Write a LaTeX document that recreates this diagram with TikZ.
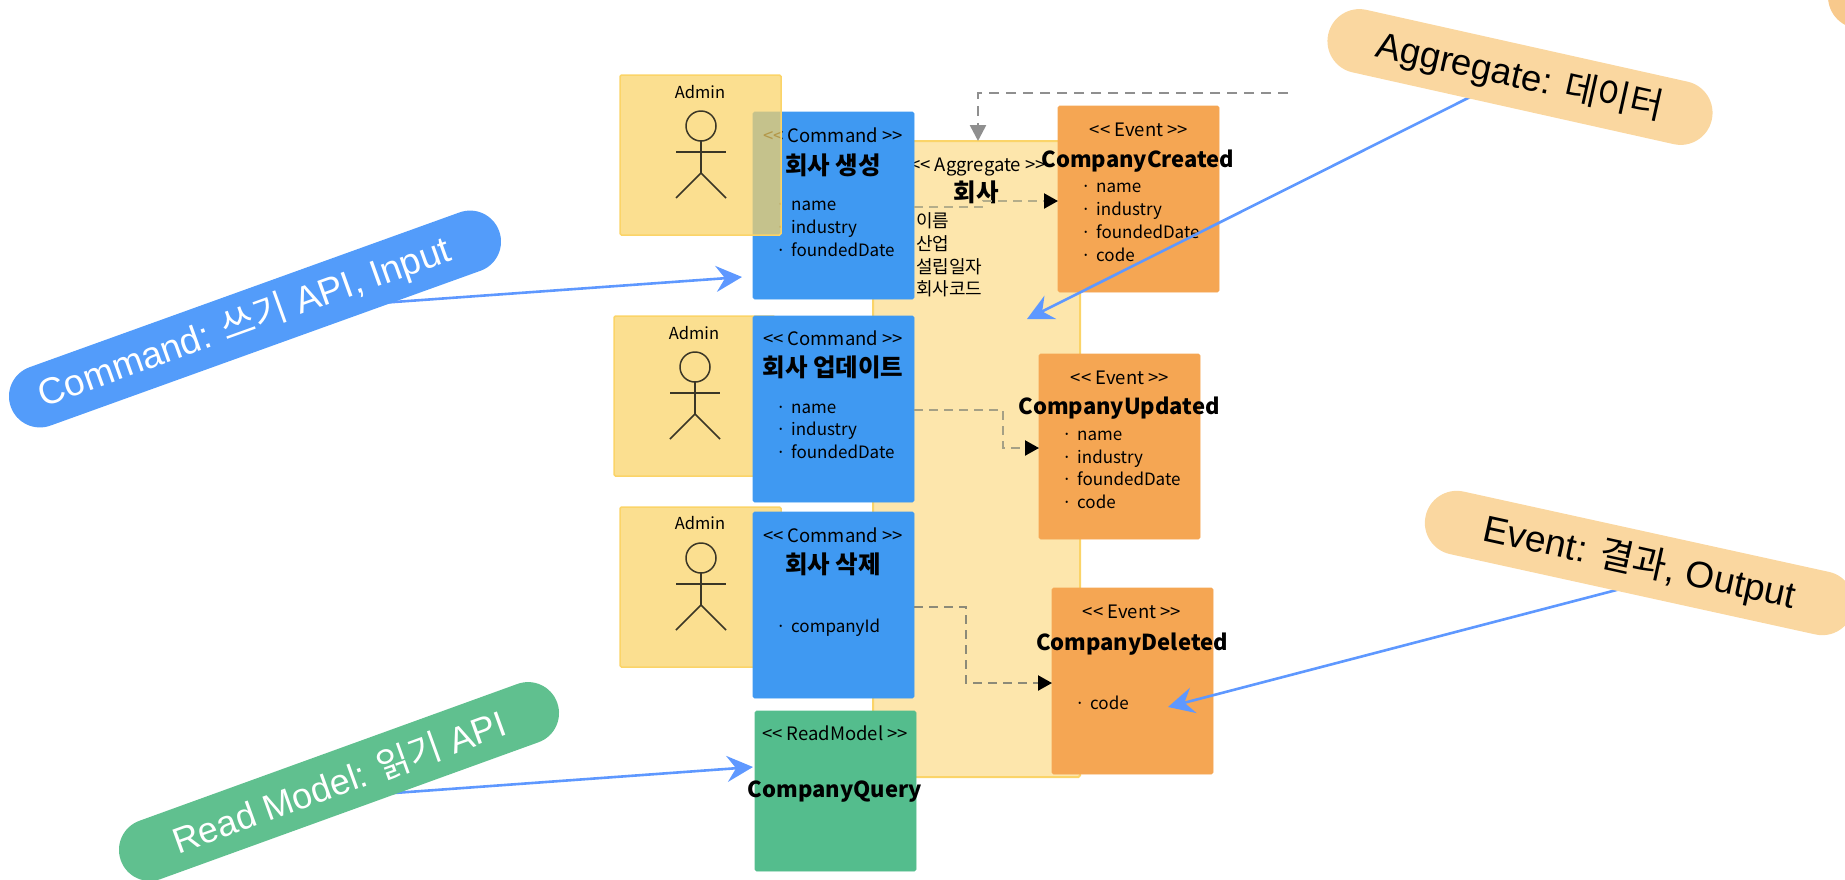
\documentclass[tikz,border=0pt]{standalone}
\usepackage{fontspec}
\setmainfont{Noto Sans CJK KR}
\newfontfamily\pilllatin{Liberation Sans}
\usetikzlibrary{arrows.meta}
\pgfdeclarelayer{front}
\pgfsetlayers{main,front}
\definecolor{cmdblue}{HTML}{3F99F2}
\definecolor{adminfill}{HTML}{F9D265}
\definecolor{adminedge}{HTML}{FBD468}
\definecolor{aggfill}{HTML}{FDE6AC}
\definecolor{evorange}{HTML}{F5A653}
\definecolor{rmgreen}{HTML}{54BD8D}
\definecolor{pillblue}{HTML}{539CFA}
\definecolor{pillorange}{HTML}{FAD7A0}
\definecolor{cornerorange}{HTML}{F8C98C}
\definecolor{pillgreen}{HTML}{60C08F}
\definecolor{arrowblue}{HTML}{5E98FF}
\definecolor{flowa}{HTML}{B4AD8A}
\definecolor{flowb}{HTML}{A5A085}
\definecolor{flowc}{HTML}{8C8A78}
\definecolor{flowtop}{HTML}{8F8F8F}
\definecolor{stickc}{HTML}{3A3626}
\newcommand\bul{\makebox[15pt][l]{·}}
\newcommand\oo{<\kern0pt<}
\newcommand\cc{>\kern0pt>}
\newcommand\ko[1]{{\rmfamily #1}}
\tikzset{
  x=1pt,y=-1pt,
  box/.style={rectangle,anchor=north west,inner sep=0pt,outer sep=0pt,minimum width=161pt,rounded corners=1.5pt},
  cmdbox/.style={box,fill=cmdblue,draw=cmdblue,line width=.6pt,minimum height=187pt},
  evbox/.style={box,fill=evorange,draw=evorange,line width=.6pt,minimum height=186pt},
  adminbox/.style={box,fill=adminfill,fill opacity=.72,draw=adminedge,line width=1.5pt,minimum height=160pt},
  stereo/.style={anchor=base,yshift=-6pt,inner sep=0pt,font=\fontsize{18.5}{20}\selectfont},
  actorname/.style={stereo,font=\fontsize{16.5}{18}\selectfont},
  titletext/.style={anchor=base,yshift=-8pt,inner sep=0pt,font=\bfseries\fontsize{24.5}{26}\selectfont},
  latintitle/.style={anchor=base,yshift=-8pt,inner sep=0pt,font=\bfseries\fontsize{22}{24}\selectfont},
  attr/.style={anchor=base west,yshift=-6pt,inner sep=0pt,font=\fontsize{17}{18}\selectfont},
  aggattr/.style={attr,font=\fontsize{18}{18}\selectfont},
  flow/.style={line width=2.2pt,dash pattern=on 9pt off 6pt,-{Triangle[length=14pt,width=15pt,color=black]}},
  pointer/.style={draw=arrowblue,line width=2.6pt,-{Stealth[length=26pt,width=26pt,inset=9pt]}},
  pill/.style={rectangle,inner sep=0pt,outer sep=0pt},
  stick/.style={draw=stickc,line width=1.5pt},
}
\newcommand\stickman[2]{%
  \draw[stick] (#1,#2+51) circle (15);
  \draw[stick] (#1,#2+66) -- (#1,#2+98);
  \draw[stick] (#1-25,#2+77) -- (#1+25,#2+77);
  \draw[stick] (#1-25,#2+123) -- (#1,#2+98) -- (#1+25,#2+123);
}
\begin{document}
\begin{tikzpicture}
\useasboundingbox (0,0) rectangle (1845,879);
% aggregate
\node[box,fill=aggfill,draw=adminedge,line width=2pt,minimum width=207pt,minimum height=636pt] (agg) at (873,141) {};
\node[stereo] (aggst) at (978,165) {\oo{} Aggregate \cc};
\node[titletext] (aggti) at (976,193) {회사};
\node[aggattr] (agga1) at (916,221) {이름};
\node[aggattr] (agga2) at (916,244) {산업};
\node[aggattr] (agga3) at (916,267) {설립일자};
\node[aggattr] (agga4) at (916,289) {회사코드};
% admins under commands
\node[adminbox] (adm2) at (614,316) {};
\node[adminbox] (adm3) at (620,507) {};
% commands
\node[cmdbox] (cmd1) at (753,112) {};
\node[stereo] (c1st) at (833,136) {\oo{} Command \cc};
\node[titletext] (c1ti) at (833,166) {회사 생성};
\node[attr] (c1a1) at (776,204) {\bul name};
\node[attr] (c1a2) at (776,227) {\bul industry};
\node[attr] (c1a3) at (776,250) {\bul foundedDate};
\node[cmdbox,minimum height=186pt] (cmd2) at (753,316) {};
\node[stereo] (c2st) at (833,339) {\oo{} Command \cc};
\node[titletext] (c2ti) at (833,368) {회사 업데이트};
\node[attr] (c2a1) at (776,407) {\bul name};
\node[attr] (c2a2) at (776,429) {\bul industry};
\node[attr] (c2a3) at (776,452) {\bul foundedDate};
\node[cmdbox,minimum height=186pt] (cmd3) at (753,512) {};
\node[stereo] (c3st) at (833,536) {\oo{} Command \cc};
\node[titletext] (c3ti) at (833,565) {회사 삭제};
\node[attr] (c3a1) at (776,626) {\bul companyId};
% admin 1 lies over command 1
\node[adminbox] (adm1) at (620,75) {};
\node[actorname] (ad1t) at (700,92) {Admin};
\node[actorname] (ad2t) at (694,333) {Admin};
\node[actorname] (ad3t) at (700,523) {Admin};
\stickman{701}{75}
\stickman{695}{316}
\stickman{701}{507}
% events
\node[evbox] (ev1) at (1058,106) {};
\node[evbox,minimum height=185pt] (ev2) at (1039,354) {};
\node[evbox] (ev3) at (1052,588) {};
\node[box,fill=rmgreen,draw=rmgreen,line width=.6pt,minimum height=160pt] (rm) at (755,711) {};
% flows
\coordinate (flowstart) at (1288,93);
\draw[flow,line width=2.6pt,dash pattern=on 10pt off 7pt,draw=flowtop,-{Triangle[length=16pt,width=16pt,color=flowtop]}] (flowstart) -| ([xshift=1.5pt]agg.north);
\draw[flow,draw=flowa] ([yshift=-1.5pt]cmd1.east) -- ++(69,0) |- ([yshift=-2pt]ev1.west);
\draw[flow,draw=flowb] ([yshift=-1pt]cmd2.east) -- ++(89,0) |- ([yshift=-1.5pt]ev2.west);
\draw[flow,draw=flowc] ([yshift=-2pt]cmd3.east) -- ++(52,0) |- ([yshift=-2pt]ev3.west);
% event and read model texts
\node[stereo] (e1st) at (1139,130) {\oo{} Event \cc};
\node[latintitle] (e1ti) at (1138,159) {CompanyCreated};
\node[attr] (e1a1) at (1081,186) {\bul name};
\node[attr] (e1a2) at (1081,209) {\bul industry};
\node[attr] (e1a3) at (1081,232) {\bul foundedDate};
\node[attr] (e1a4) at (1081,255) {\bul code};
\node[stereo] (e2st) at (1120,378) {\oo{} Event \cc};
\node[latintitle] (e2ti) at (1119,406) {CompanyUpdated};
\node[attr] (e2a1) at (1062,434) {\bul name};
\node[attr] (e2a2) at (1062,457) {\bul industry};
\node[attr] (e2a3) at (1062,479) {\bul foundedDate};
\node[attr] (e2a4) at (1062,502) {\bul code};
\node[stereo] (e3st) at (1132,612) {\oo{} Event \cc};
\node[latintitle] (e3ti) at (1132,642) {CompanyDeleted};
\node[attr] (e3a1) at (1075,703) {\bul code};
\node[stereo] (rmst) at (835,734) {\oo{} ReadModel \cc};
\node[latintitle] (rmti) at (835,789) {CompanyQuery};
% pills
\begin{pgfonlayer}{front}
\fill[cornerorange] (1860,-3.4) circle (32);
\node[pill,font=\pilllatin\fontsize{37}{40}\selectfont,fill=pillblue,text=white,minimum width=519pt,minimum height=62pt,rounded corners=30.9pt,rotate=19.8] (cmdpill) at (255,319) {Command: \ko{쓰기} API, Input\kern22pt};
\node[pill,font=\pilllatin\fontsize{36.5}{40}\selectfont,fill=pillorange,minimum width=393pt,minimum height=64pt,rounded corners=31.9pt,rotate=-12.6] (aggpill) at (1520,77) {Aggregate: \ko{데이터}};
\node[pill,font=\pilllatin\fontsize{37}{40}\selectfont,fill=pillorange,minimum width=438pt,minimum height=64pt,rounded corners=31.9pt,rotate=-12.4] (evpill) at (1639.5,563) {Event: \ko{결과}, Output};
\node[pill,font=\pilllatin\fontsize{36}{40}\selectfont,fill=pillgreen,text=white,minimum width=464pt,minimum height=62pt,rounded corners=30.9pt,rotate=19.9] (rmpill) at (339,781.5) {Read Model: \ko{읽기} API};
\end{pgfonlayer}
% pointers
\coordinate (cmdtip) at (742,277);
\coordinate (aggtip) at (1027,319);
\coordinate (evtip) at (1168,707);
\coordinate (rmtip) at (753,767);
\draw[pointer] ([yshift=7pt]cmdpill.center) -- (cmdtip);
\draw[pointer] ([yshift=5pt]aggpill.center) -- (aggtip);
\draw[pointer] ([yshift=-21pt]evpill.center) -- (evtip);
\draw[pointer] ([yshift=-15.5pt]rmpill.center) -- (rmtip);
\end{tikzpicture}
\end{document}
